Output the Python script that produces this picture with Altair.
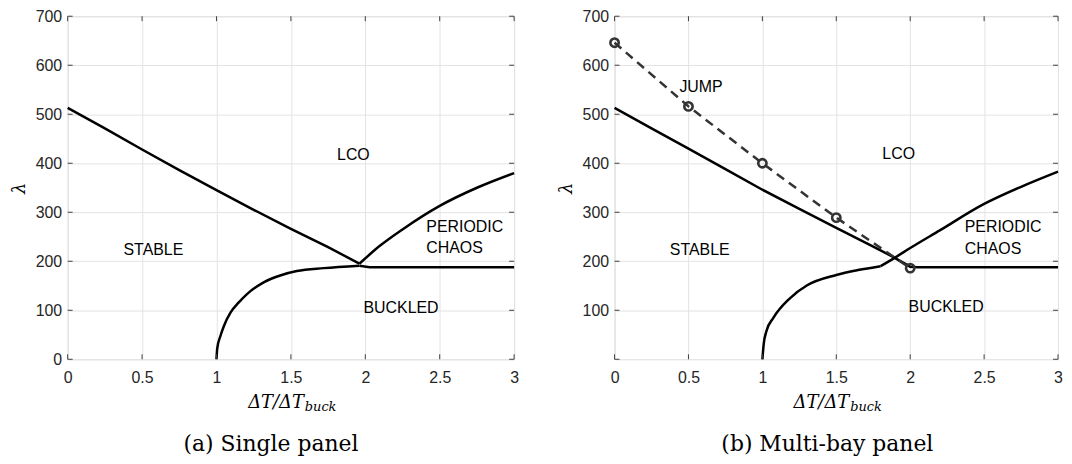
import altair as alt
import pandas as pd

# ---------------- data ----------------
X_TICKS = [0, 0.5, 1, 1.5, 2, 2.5, 3]
Y_TICKS_A = [0, 100, 200, 300, 400, 500, 600, 700]
Y_TICKS_B = [100, 200, 300, 400, 500, 600, 700]

# (a) Single panel
a_flutter_x = [0, 0.25, 0.5, 0.75, 1.0, 1.25, 1.5, 1.75, 1.96]
a_flutter_y = [513, 471, 428, 386, 345, 305, 266, 229, 195]
a_chaos_x = [1.96, 2.1, 2.25, 2.5, 2.75, 3.0]
a_chaos_y = [195, 232, 265, 313, 350, 380]
a_buck_x = [1.0, 1.005, 1.027, 1.05, 1.094, 1.15, 1.205, 1.317, 1.428, 1.54, 1.72, 1.96]
a_buck_y = [0, 22, 48, 68, 95, 116, 133, 157, 171, 180, 186, 191]
a_flat_x = [1.96, 2.03, 3.0]
a_flat_y = [191, 188, 188]
a_lab_text = ["LCO", "STABLE", "BUCKLED", "PERIODIC", "CHAOS"]
a_lab_x = [1.92, 0.576, 2.24, 2.41, 2.41]
a_lab_y = [416, 223, 105, 269, 228]
a_lab_align = ["center", "center", "center", "left", "left"]

# (b) Multi-bay panel
b_flutter_x = [0, 0.25, 0.5, 0.75, 1.0, 1.25, 1.5, 1.75, 1.877, 2.0, 2.05, 3.0]
b_flutter_y = [513, 471, 430, 388, 346, 307, 268, 230, 210, 189, 188, 188]
b_buck_x = [1.0, 1.009, 1.028, 1.073, 1.188, 1.303, 1.5, 1.647, 1.80]
b_buck_y = [0, 31, 58, 84, 125, 151, 172, 182, 190]
b_chaos_x = [1.80, 1.9, 2.0, 2.2, 2.5, 2.75, 3.0]
b_chaos_y = [190, 208, 227, 263, 317, 352, 383]
b_jump_x = [0, 0.5, 1.0, 1.5, 2.0]
b_jump_y = [646, 516, 400, 289, 186]
b_lab_text = ["JUMP", "LCO", "STABLE", "BUCKLED", "PERIODIC", "CHAOS"]
b_lab_x = [0.585, 1.922, 0.576, 2.243, 2.369, 2.369]
b_lab_y = [555, 418, 222, 106, 269, 225]
b_lab_align = ["center", "center", "center", "center", "left", "left"]

CAPTIONS = ["(a) Single panel", "(b) Multi-bay panel"]

# ---------------- style ----------------
H = 345
W_A, W_B = 449, 446
AXIS_COLOR = "#404040"
TXT = "#262626"
SANS = "Liberation Sans"
SERIF = "DejaVu Serif"


def curves_df(curves):
    rows = []
    for name, xs, ys in curves:
        for i, (x, y) in enumerate(zip(xs, ys)):
            rows.append({"series": name, "i": i, "x": x, "y": y})
    return pd.DataFrame(rows)


def panel(straight, smooth, jump, lab_text, lab_x, lab_y, lab_align, yticks, w, caption, cap_dx):
    xs = alt.Scale(domain=[0, 3], nice=False, zero=False)
    ys = alt.Scale(domain=[0, 700], nice=False, zero=False)
    x_axis = alt.Axis(values=X_TICKS, format="~g", grid=True, gridColor="#e3e3e3",
                      gridWidth=1, ticks=False, domain=False, labelPadding=10,
                      labelFont=SANS, labelFontSize=16, labelColor=TXT,
                      labelFlush=False, title=None)
    y_axis = alt.Axis(values=yticks, grid=True, gridColor="#e3e3e3", gridWidth=1,
                      ticks=False, domain=False, labelPadding=6, labelFont=SANS,
                      labelFontSize=16, labelColor=TXT, title="λ",
                      titleFont=SERIF, titleFontStyle="italic", titleFontWeight="normal",
                      titleFontSize=18, titleColor="#000000", titleX=-48, titleY=H / 2,
                      titleAngle=270, titleBaseline="middle", titleAlign="center")

    lines = alt.Chart(curves_df(straight)).mark_line(color="#000000", strokeWidth=2.5).encode(
        x=alt.X("x:Q", scale=xs, axis=x_axis),
        y=alt.Y("y:Q", scale=ys, axis=y_axis),
        detail="series:N",
        order="i:Q",
    )
    curves = alt.Chart(curves_df(smooth)).mark_line(color="#000000", strokeWidth=2.5,
                                                    interpolate="monotone").encode(
        x=alt.X("x:Q", scale=xs),
        y=alt.Y("y:Q", scale=ys),
        detail="series:N",
        order="i:Q",
    )
    layers = [lines, curves]

    if jump is not None:
        jdf = pd.DataFrame({"x": jump[0], "y": jump[1]})
        layers.append(alt.Chart(jdf).mark_line(color="#333333", strokeWidth=2.5,
                                               strokeDash=[9, 6]).encode(
            x=alt.X("x:Q", scale=xs), y=alt.Y("y:Q", scale=ys)))
        layers.append(alt.Chart(jdf).mark_point(shape="circle", filled=False, size=70,
                                                color="#333333", strokeWidth=2.6,
                                                opacity=1).encode(
            x=alt.X("x:Q", scale=xs), y=alt.Y("y:Q", scale=ys)))

    ldf = pd.DataFrame({"t": lab_text, "x": lab_x, "y": lab_y, "a": lab_align})
    for al in ["center", "left"]:
        layers.append(alt.Chart(ldf).transform_filter(alt.datum.a == al).mark_text(
            font=SANS, fontSize=16, color="#000000", align=al, baseline="middle").encode(
            x=alt.X("x:Q", scale=xs), y=alt.Y("y:Q", scale=ys), text="t:N"))

    # inward ticks on all four sides
    xt = pd.DataFrame({"v": X_TICKS})
    yt = pd.DataFrame({"v": Y_TICKS_A})
    tk = dict(color=AXIS_COLOR, strokeWidth=1)
    layers.append(alt.Chart(xt).mark_rule(**tk).encode(
        x=alt.X("v:Q", scale=xs), y=alt.value(H), y2=alt.value(H - 5)))
    layers.append(alt.Chart(xt).mark_rule(**tk).encode(
        x=alt.X("v:Q", scale=xs), y=alt.value(0), y2=alt.value(5)))
    layers.append(alt.Chart(yt).mark_rule(**tk).encode(
        y=alt.Y("v:Q", scale=ys), x=alt.value(0), x2=alt.value(5)))
    layers.append(alt.Chart(yt).mark_rule(**tk).encode(
        y=alt.Y("v:Q", scale=ys), x=alt.value(w), x2=alt.value(w - 5)))

    # x-axis title (ΔT/ΔT_buck) and caption
    one = pd.DataFrame({"t": ["ΔT/ΔT"], "s": ["buck"], "c": [caption]})
    layers.append(alt.Chart(one).mark_text(font=SERIF, fontStyle="italic", fontSize=18,
                                           color="#000000", align="right",
                                           baseline="alphabetic").encode(
        text="t:N", x=alt.value(w / 2 + 13), y=alt.value(H + 49)))
    layers.append(alt.Chart(one).mark_text(font=SERIF, fontStyle="italic", fontSize=13,
                                           color="#000000", align="left",
                                           baseline="alphabetic").encode(
        text="s:N", x=alt.value(w / 2 + 14), y=alt.value(H + 52)))
    layers.append(alt.Chart(one).mark_text(font=SERIF, fontSize=22, color="#000000",
                                           align="center", baseline="alphabetic").encode(
        text="c:N", x=alt.value(w / 2 + cap_dx), y=alt.value(H + 92)))

    return alt.layer(*layers).properties(width=w, height=H)


left = panel([("flutter", a_flutter_x, a_flutter_y),
              ("flat", a_flat_x, a_flat_y)],
             [("chaos", a_chaos_x, a_chaos_y),
              ("buck", a_buck_x, a_buck_y)],
             None, a_lab_text, a_lab_x, a_lab_y, a_lab_align,
             Y_TICKS_A, W_A, CAPTIONS[0], -20)

right = panel([("flutter", b_flutter_x, b_flutter_y)],
              [("buck", b_buck_x, b_buck_y),
               ("chaos", b_chaos_x, b_chaos_y)],
              (b_jump_x, b_jump_y), b_lab_text, b_lab_x, b_lab_y, b_lab_align,
              Y_TICKS_B, W_B, CAPTIONS[1], -9)

chart = alt.hconcat(left, right, spacing=101, bounds="flush").properties(
    padding={"left": 2, "top": -2, "right": 0, "bottom": 0}
).configure_view(stroke=AXIS_COLOR, strokeWidth=1).configure(background="white")

chart.save("out.html", embed_options={"renderer": "svg", "actions": False})
